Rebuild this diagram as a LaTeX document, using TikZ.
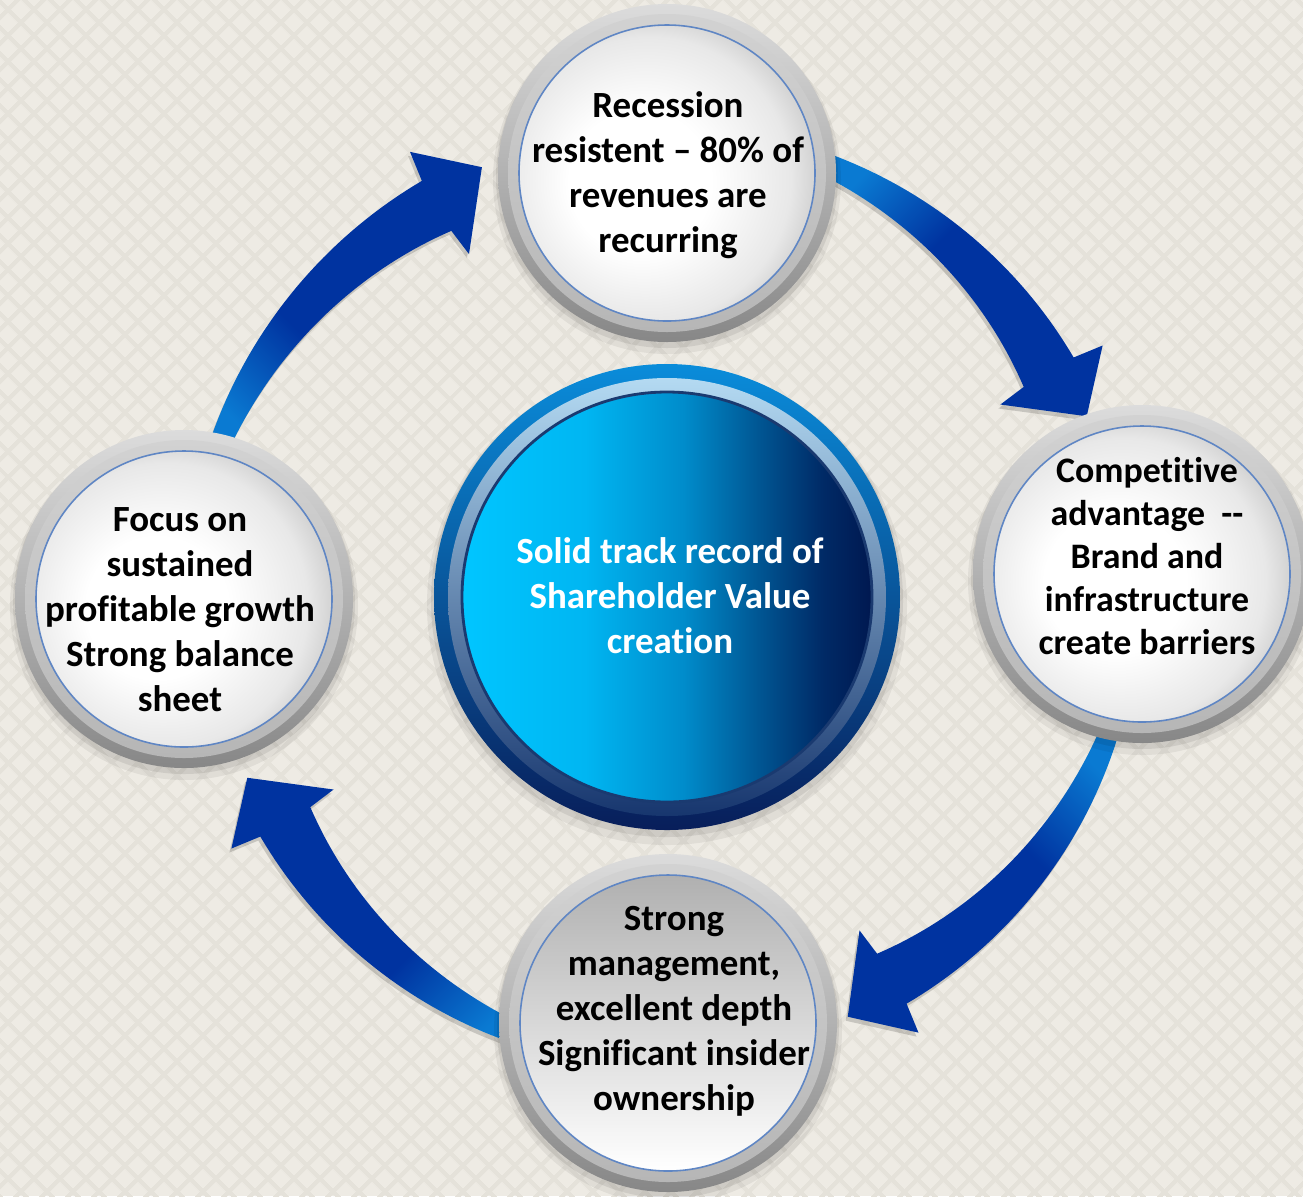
\documentclass[tikz,border=0pt]{standalone}
\usepackage{fontspec}
\setmainfont{Carlito}[Ligatures={NoCommon}]
\usetikzlibrary{calc,patterns.meta}
\definecolor{bg}{HTML}{EEEBE4}
\definecolor{bgdark}{HTML}{E5E2DA}
\definecolor{ablue1}{HTML}{0A7AD2}
\definecolor{ablue2}{HTML}{0033A0}
\definecolor{ringtop}{HTML}{DCDCDC}
\definecolor{ringbot}{HTML}{878787}
\definecolor{bevtop}{HTML}{D2D2D2}
\definecolor{bevbot}{HTML}{B6B6B6}
\definecolor{dgray1}{HTML}{E8E8E8}
\definecolor{dgray2}{HTML}{C0C0C0}
\definecolor{discedge}{HTML}{5F86C4}
\definecolor{cout1}{HTML}{0A8CDA}
\definecolor{cout2}{HTML}{081E5A}
\definecolor{cring1}{HTML}{B4DAF2}
\definecolor{cring2}{HTML}{5F90BE}
\definecolor{cring3}{HTML}{17366E}
\definecolor{cin1}{HTML}{00C6FF}
\definecolor{cin2}{HTML}{00B6F2}
\definecolor{cin3}{HTML}{008CCB}
\definecolor{cin4}{HTML}{005794}
\definecolor{cin5}{HTML}{002A66}
\definecolor{cin6}{HTML}{001850}
\definecolor{cedge}{HTML}{1A3A70}
\pgfdeclarehorizontalshading{arrsh}{100bp}{color(0bp)=(ablue1); color(25bp)=(ablue1); color(43bp)=(ablue2); color(100bp)=(ablue2)}
\pgfdeclareradialshading{wdisc}{\pgfpoint{-6bp}{-2bp}}{color(0bp)=(white); color(12bp)=(white); color(24bp)=(dgray1); color(31bp)=(dgray2); color(50bp)=(dgray2)}
\pgfdeclarehorizontalshading{ctrsh}{100bp}{color(0bp)=(cin1); color(25bp)=(cin1); color(40bp)=(cin2); color(52bp)=(cin3); color(61bp)=(cin4); color(69bp)=(cin5); color(75bp)=(cin6); color(100bp)=(cin6)}
\tikzset{
  arrpath/.style n args={3}{insert path={
    plot[domain=#1:#2,samples=40] ({667+(472+#3)*cos(\x)},{597-(472+#3)*sin(\x)})
    -- ({667+(503+#3)*cos(#2-0.5)},{597-(503+#3)*sin(#2-0.5)})
    -- ({667+(457+#3)*cos(#2-7.2)},{597-(457+#3)*sin(#2-7.2)})
    -- ({667+(385+#3)*cos(#2-0.5)},{597-(385+#3)*sin(#2-0.5)})
    -- plot[domain=#2:#1,samples=40] ({667+(414+#3+0.911*abs(\x-(#2)))*cos(\x)},{597-(414+#3+0.911*abs(\x-(#2)))*sin(\x)})
    -- cycle}},
  wtext/.style={align=center, font=\fontsize{10.5pt}{12.8pt}\selectfont\bfseries, text=black, inner sep=0pt},
  rtext/.style={align=center, font=\fontsize{10.2pt}{12.2pt}\selectfont\bfseries, text=black, inner sep=0pt},
  ctext/.style={align=center, font=\fontsize{10.5pt}{12.8pt}\selectfont\bfseries, text=white, inner sep=0pt}
}
\newcommand{\cycarrow}[4]{%
  \fill[black,opacity=0.16,shift={(-2,4)},arrpath={#1}{#2}{#3}];
  \shade[shading=arrsh,shading angle=#4,arrpath={#1}{#2}{#3}];
}
\newcommand{\whitecircle}[2]{%
  \fill[black,opacity=0.06] ($(#1)+(0,7)$) circle (174);
  \fill[black,opacity=0.08] ($(#1)+(0,4)$) circle (171);
  \shade[top color=ringtop,bottom color=ringbot] (#1) circle (169);
  \shade[top color=bevtop,bottom color=bevbot] (#1) circle (159);
  \shade[#2] (#1) circle (148);
  \draw[discedge,line width=0.45pt] (#1) circle (148);
}
\begin{document}
\begin{tikzpicture}[x=0.01cm,y=-0.01cm]
\useasboundingbox (0,0) rectangle (1303,1196);
\fill[bg] (0,0) rectangle (1303,1196);
\fill[pattern={Hatch[angle=45,distance=5.4pt,line width=1.3pt]},pattern color=bgdark] (0,0) rectangle (1303,1196);

\coordinate (cT) at (667,173);
\coordinate (cR) at (1142,574);
\coordinate (cB) at (668,1023);
\coordinate (cL) at (184,599);
\coordinate (cC) at (667,597);

% arrows
\cycarrow{72}{30.5}{0}{-45}
\cycarrow{-14}{-59.5}{0}{225}
\cycarrow{255}{210.5}{0}{135}
\cycarrow{165}{120.5}{11}{45}

% centre circle
\fill[black,opacity=0.06] ($(cC)+(0,8)$) circle (240);
\fill[black,opacity=0.08] ($(cC)+(0,4)$) circle (236);
\shade[top color=cout1,bottom color=cout2] (cC) circle (233);
\shade[top color=cring1,middle color=cring2,bottom color=cring3] (cC) circle (219);
\shade[shading=ctrsh] (cC) circle (205);
\draw[cedge,line width=0.8pt] (cC) circle (205);

% outer circles
\whitecircle{cT}{shading=wdisc}
\whitecircle{cR}{shading=wdisc}
\whitecircle{cL}{shading=wdisc}
\whitecircle{cB}{top color=gray!62,middle color=gray!22,bottom color=white}

% texts
\node[wtext] (tT) at (668,175) {Recession\\resistent – 80\% of\\revenues are\\recurring};
\node[rtext] (tR) at (1147,556) {Competitive\\advantage~~-{}-\\Brand and\\infrastructure\\create barriers};
\node[wtext] (tB) at (674,1011) {Strong\\management,\\excellent depth\\Significant insider\\ownership};
\node[wtext] (tL) at (180,610) {Focus on\\sustained\\profitable growth\\Strong balance\\sheet};
\node[ctext] (tC) at (670,596) {Solid track record of\\Shareholder Value\\creation};
\end{tikzpicture}
\end{document}
